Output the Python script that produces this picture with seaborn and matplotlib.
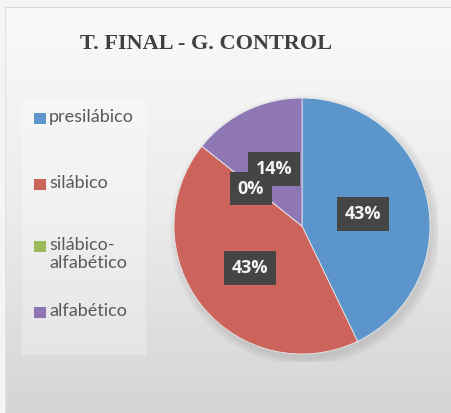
import numpy as np
import matplotlib
matplotlib.use("Agg")
import matplotlib.pyplot as plt
import matplotlib.patches as mpatches
import seaborn as sns

categories = ["presilábico", "silábico", "silábico-\nalfabético", "alfabético"]
values = [3, 3, 0, 1]
pct_labels = ["43%", "43%", "0%", "14%"]
colors = ["#5b95cc", "#cc645b", "#9bbb59", "#8f77b5"]

sns.set_style("white")
plt.rcParams['font.family'] = ['Lato', 'DejaVu Sans']

fig = plt.figure(figsize=(4.52, 4.13), dpi=100)
fig.patch.set_facecolor("#f4f4f4")

# chart area with a light top-to-bottom gradient
bg = fig.add_axes([5 / 452, 0, 447 / 452, 406 / 413], zorder=-5)
grad = np.linspace(0, 1, 200).reshape(-1, 1)
bg.imshow(grad, aspect="auto", cmap=sns.blend_palette(["#fafafa", "#ececec", "#d5d5d5"], as_cmap=True),
          extent=[0, 1, 0, 1], origin="upper")
bg.add_patch(mpatches.Rectangle((17 / 447, (413 - 355) / 406), 124 / 447, 257 / 406,
                                facecolor="white", alpha=0.28, edgecolor="none"))
bg.axhline(1, color="#d4d4d4", lw=1.5)
bg.axvline(0, color="#e2e2e2", lw=1)
bg.set_xlim(0, 1)
bg.set_ylim(0, 1)
bg.axis("off")

fig.text(206 / 452, 1 - 44 / 413, "T. FINAL - G. CONTROL", ha="center", va="center",
         fontsize=16, fontweight="bold", color="#404040", family="Liberation Serif")

ax = fig.add_axes([(302 - 136) / 452, (413 - 226 - 136) / 413, 272 / 452, 272 / 413])
ax.set_zorder(3)
ax.patch.set_visible(False)
# soft shadow
for k in range(6):
    ax.add_patch(mpatches.Circle((0.025, -0.035), 1.0 + 0.012 * k, color="#808080",
                                 alpha=0.045, lw=0, zorder=0))
wedges, _ = ax.pie(values, colors=colors, startangle=90, counterclock=False,
                   radius=1, wedgeprops=dict(edgecolor="#e8e8e8", linewidth=0.6))
ax.set_xlim(-1.0625, 1.0625)
ax.set_ylim(-1.0625, 1.0625)
ax.set_aspect("equal")
ax.axis("off")

label_pos = [(0.477, 0.094), (-0.406, -0.328), (-0.40, 0.29), (-0.218, 0.445)]
box_order = [0, 1, 3, 2]
for z, i in enumerate(box_order):
    x, y = label_pos[i]
    # box only (text hidden), the 0% box goes over the 14% box
    ax.text(x, y, pct_labels[i], ha="center", va="center", fontsize=13, fontweight="bold",
            color="none", family="Open Sans", zorder=5 + z,
            bbox=dict(boxstyle="square,pad=0.42", facecolor="#454545", edgecolor="none"))
for (x, y), lab in zip(label_pos, pct_labels):
    ax.text(x, y, lab, ha="center", va="center", fontsize=13, fontweight="bold",
            color="#f4f4f4", family="Open Sans", zorder=20)

# legend
leg_y = [119, 185, 247, 313]
for y, lab, c in zip(leg_y, categories, colors):
    fig.patches.append(mpatches.Rectangle((34 / 452, 1 - (y + 5) / 413), 12 / 452, 11 / 413,
                                          transform=fig.transFigure, facecolor=c,
                                          edgecolor="none"))
    fig.text(49 / 452, 1 - (y - 10) / 413, lab, ha="left", va="top", fontsize=13,
             color="#595959", linespacing=1.15)

fig.savefig("out.png", dpi=100, facecolor=fig.get_facecolor())
